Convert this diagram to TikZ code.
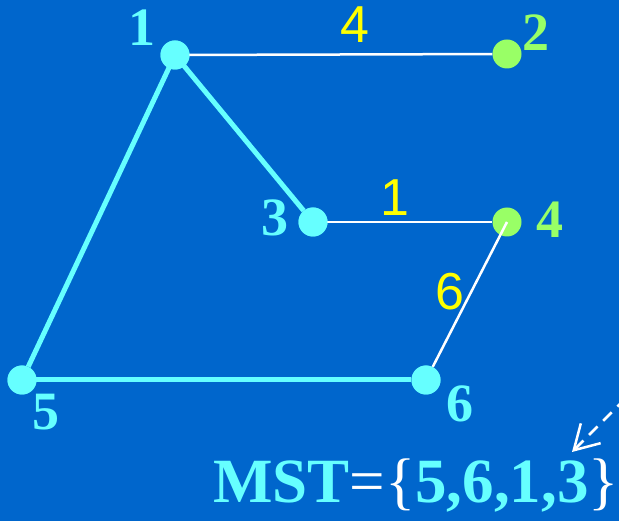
\documentclass[tikz,border=0pt]{standalone}
\usepackage{fontspec}
\setmainfont{Liberation Serif}
\newfontfamily\sansf{Liberation Sans}
\usetikzlibrary{arrows.meta}
\definecolor{bg}{HTML}{0066CC}
\definecolor{cy}{HTML}{66FFFF}
\definecolor{gr}{HTML}{99FF66}
\definecolor{yl}{HTML}{FFFF00}
\tikzset{
  dotc/.style={circle,fill=cy,inner sep=0pt,minimum size=29pt},
  dotg/.style={circle,fill=gr,inner sep=0pt,minimum size=29pt},
  thick edge/.style={draw=cy,line width=5pt},
  thin edge/.style={draw=white,line width=2.5pt},
  nlab/.style={text=cy,font=\fontsize{54}{54}\selectfont\bfseries,inner sep=0pt},
  glab/.style={text=gr,font=\fontsize{54}{54}\selectfont\bfseries,inner sep=0pt},
  elab/.style={text=yl,font=\sansf\fontsize{52}{52}\selectfont,inner sep=0pt},
}
\begin{document}
\begin{tikzpicture}[x=1pt,y=-1pt]
\fill[bg] (0,0) rectangle (619,521);
\useasboundingbox (0,0) rectangle (619,521);
\node[dotc] (n1) at (175,55) {};
\node[dotg] (n2) at (507,54) {};
\node[dotc] (n3) at (313,222) {};
\node[dotg] (n4) at (507,222) {};
\node[dotc] (n5) at (22,380) {};
\node[dotc] (n6) at (426,380) {};
\draw[thin edge] (n1.center) -- (n2);
\draw[thin edge] (n3.center) -- (n4);
\draw[thin edge] (n4.center) -- (n6);
\draw[thick edge] (n1.center) -- (n3);
\draw[thick edge] (n1.center) -- (n5);
\draw[thick edge] (n5.center) -- (n6);
\node[dotc] at (n1) {};
\node[dotc] at (n3) {};
\node[dotc] at (n5) {};
\node[dotc] at (n6) {};
\node[nlab] (l1) at (142,28) {1};
\node[glab] (l2) at (536,33) {2};
\node[nlab] (l3) at (275,218) {3};
\node[glab] (l4) at (550,220) {4};
\node[nlab] (l5) at (46,412) {5};
\node[nlab] (l6) at (460,404) {6};
\node[elab] (e12) at (355,25) {4};
\node[elab] (e34) at (395,198) {1};
\node[elab] (e46) at (450,292) {6};
\node[anchor=base west,inner sep=0pt,font=\fontsize{63}{63}\selectfont] (mst) at (213,502)
  {\textcolor{cy}{\bfseries MST}\textcolor{white}{=\{}\textcolor{cy}{\bfseries 5,6,1,3}\textcolor{white}{\}}};
\coordinate (astart) at (640,384);
\coordinate (aend) at (572,452);
\draw[white,line width=2.5pt,dash pattern=on 12pt off 8pt,-{Straight Barb[length=24pt,width=28pt,line width=2.5pt]}] (astart) -- (aend);
\end{tikzpicture}
\end{document}
